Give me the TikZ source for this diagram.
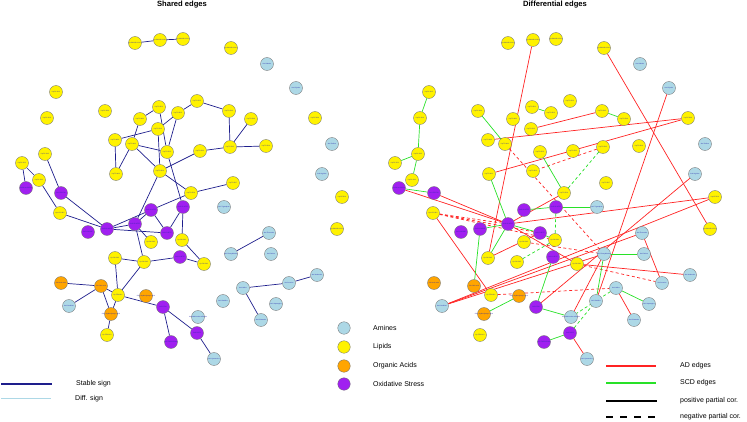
\documentclass[tikz,border=0pt]{standalone}
\usepackage{fontspec}
\setmainfont{Liberation Sans}
\setsansfont{Liberation Sans}
\pgfdeclarelayer{bg}
\pgfsetlayers{bg,main}
\definecolor{sblue}{RGB}{30,30,140}
\definecolor{lblue}{RGB}{173,216,230}
\definecolor{orng}{RGB}{255,165,0}
\definecolor{purp}{RGB}{160,32,240}
\definecolor{adred}{RGB}{255,35,35}
\definecolor{scdgreen}{RGB}{40,225,40}
\definecolor{lbltxt}{RGB}{40,40,170}
\newcommand\mb[1]{\makebox[0pt]{#1}}
\tikzset{
  nd/.style={circle,draw=black!55,line width=0.35pt,minimum size=13pt,inner sep=0pt,
    font=\fontsize{1.6}{2}\selectfont,text=lbltxt},
  lip/.style={nd,fill=yellow},
  ami/.style={nd,fill=lblue},
  oac/.style={nd,fill=orng},
  oxs/.style={nd,fill=purp},
  se/.style={draw=sblue,line width=0.7pt},
  ad/.style={draw=adred,line width=0.7pt},
  scd/.style={draw=scdgreen,line width=0.7pt},
  neg/.style={dash pattern=on 3pt off 2.5pt},
  ttl/.style={font=\bfseries\fontsize{7.6}{9}\selectfont},
  lgt/.style={font=\fontsize{7}{8}\selectfont,anchor=west,inner sep=0pt},
  lgc/.style={circle,draw=black!55,line width=0.35pt,minimum size=12.5pt,inner sep=0pt}
}
\newcommand\placenodes[1]{%
  \node[lip] (#1L1) at (135,43) {\mb{Lip.SM.d18.1.16.0}};
  \node[lip] (#1L2) at (160,40) {\mb{Lip.SM.d18.1.18.0}};
  \node[lip] (#1L3) at (183,39) {\mb{Lip.SM.d18.1.20.0}};
  \node[lip] (#1L4) at (231,48) {\mb{Lip.SM.d18.1.24.1}};
  \node[lip] (#1L5) at (56,92) {\mb{Lip.PC.36.2}};
  \node[lip] (#1L6) at (47,118) {\mb{Lip.PC.36.4}};
  \node[lip] (#1L7) at (105,111) {\mb{Lip.PC.38.4}};
  \node[lip] (#1L8) at (159,107) {\mb{Lip.TG.50.1}};
  \node[lip] (#1L9) at (197,101) {\mb{Lip.TG.52.2}};
  \node[lip] (#1L10) at (229,111) {\mb{Lip.TG.54.3}};
  \node[lip] (#1L11) at (178,113) {\mb{Lip.TG.50.2}};
  \node[lip] (#1L12) at (140,119) {\mb{Lip.TG.48.1}};
  \node[lip] (#1L13) at (251,119) {\mb{Lip.TG.54.4}};
  \node[lip] (#1L14) at (315,118) {\mb{Lip.PE.38.4}};
  \node[lip] (#1L15) at (158,129) {\mb{Lip.TG.51.2}};
  \node[lip] (#1L16) at (115,140) {\mb{Lip.TG.48.0}};
  \node[lip] (#1L17) at (132,144) {\mb{Lip.TG.49.1}};
  \node[lip] (#1L18) at (167,152) {\mb{Lip.TG.52.3}};
  \node[lip] (#1L19) at (200,151) {\mb{Lip.TG.53.2}};
  \node[lip] (#1L20) at (230,147) {\mb{Lip.TG.54.2}};
  \node[lip] (#1L21) at (266,146) {\mb{Lip.TG.56.6}};
  \node[lip] (#1L22) at (45,154) {\mb{Lip.PC.34.2}};
  \node[lip] (#1L23) at (22,163) {\mb{Lip.PC.32.1}};
  \node[lip] (#1L24) at (116,174) {\mb{Lip.TG.46.1}};
  \node[lip] (#1L25) at (160,171) {\mb{Lip.TG.50.3}};
  \node[lip] (#1L26) at (39,180) {\mb{Lip.PC.34.1}};
  \node[lip] (#1L27) at (233,183) {\mb{Lip.TG.56.7}};
  \node[lip] (#1L28) at (191,193) {\mb{Lip.TG.52.4}};
  \node[lip] (#1L29) at (342,197) {\mb{Lip.CE.20.4}};
  \node[lip] (#1L30) at (60,213) {\mb{Lip.LPC.18.2}};
  \node[lip] (#1L31) at (151,242) {\mb{Lip.DG.36.2}};
  \node[lip] (#1L32) at (182,240) {\mb{Lip.DG.34.1}};
  \node[lip] (#1L33) at (115,258) {\mb{Lip.DG.36.3}};
  \node[lip] (#1L34) at (144,262) {\mb{Lip.DG.34.2}};
  \node[lip] (#1L35) at (204,264) {\mb{Lip.DG.36.1}};
  \node[lip] (#1L36) at (337,229) {\mb{Lip.SM.d18.1.22.0}};
  \node[lip] (#1L37) at (118,295) {\mb{Lip.FFA.18.1}};
  \node[lip] (#1L38) at (107,335) {\mb{Lip.FFA.16.0}};
  \node[ami] (#1A1) at (267,64) {\mb{Ami.Alanine}};
  \node[ami] (#1A2) at (296,88) {\mb{Ami.Glycine}};
  \node[ami] (#1A3) at (332,144) {\mb{Ami.Proline}};
  \node[ami] (#1A4) at (322,174) {\mb{Ami.Arginine}};
  \node[ami] (#1A5) at (224,207) {\mb{Ami.Tryptophan}};
  \node[ami] (#1A6) at (269,233) {\mb{Ami.Threonine}};
  \node[ami] (#1A7) at (231,254) {\mb{Ami.Phenylalanine}};
  \node[ami] (#1A8) at (271,254) {\mb{Ami.Serine}};
  \node[ami] (#1A9) at (69,306) {\mb{Ami.Ornithine}};
  \node[ami] (#1A10) at (198,317) {\mb{Ami.Methionine.sulfoxide}};
  \node[ami] (#1A11) at (214,359) {\mb{Ami.Kynurenine}};
  \node[ami] (#1A12) at (243,288) {\mb{Ami.Valine}};
  \node[ami] (#1A13) at (289,283) {\mb{Ami.Leucine}};
  \node[ami] (#1A14) at (317,275) {\mb{Ami.Isoleucine}};
  \node[ami] (#1A15) at (223,301) {\mb{Ami.Histidine}};
  \node[ami] (#1A16) at (276,304) {\mb{Ami.Asparagine}};
  \node[ami] (#1A17) at (261,320) {\mb{Ami.Glutamine}};
  \node[oac] (#1O1) at (61,283) {\mb{OA.Lactic.acid}};
  \node[oac] (#1O2) at (101,286) {\mb{OA.Citric.acid}};
  \node[oac] (#1O3) at (146,296) {\mb{OA.3.Hydroxybutyric.acid}};
  \node[oac] (#1O4) at (111,314) {\mb{OA.2.Hydroxybutyric.acid}};
  \node[oxs] (#1P1) at (26,188) {\mb{OxS.8.iso.PGF2a}};
  \node[oxs] (#1P2) at (61,193) {\mb{OxS.5.iPF2a}};
  \node[oxs] (#1P3) at (151,210) {\mb{OxS.11.HETE}};
  \node[oxs] (#1P4) at (183,207) {\mb{OxS.12.HETE}};
  \node[oxs] (#1P5) at (88,232) {\mb{OxS.9.HODE}};
  \node[oxs] (#1P6) at (107,229) {\mb{OxS.13.HODE}};
  \node[oxs] (#1P7) at (135,224) {\mb{OxS.15.HETE}};
  \node[oxs] (#1P8) at (167,233) {\mb{OxS.5.HETE}};
  \node[oxs] (#1P9) at (180,257) {\mb{OxS.9.HETE}};
  \node[oxs] (#1P10) at (163,307) {\mb{OxS.LTB4}};
  \node[oxs] (#1P11) at (197,333) {\mb{OxS.PGE2}};
  \node[oxs] (#1P12) at (171,342) {\mb{OxS.TXB2.15.keto}};
}
\begin{document}
\begin{tikzpicture}[x=1pt,y=-1pt]
\useasboundingbox (0,0) rectangle (747,422);
% titles
\node[ttl] (t1) at (182,4.5) {Shared edges};
\node[ttl] (t2) at (555,4.5) {Differential edges};
% nodes
\placenodes{a}
\begin{scope}[xshift=373pt]
\placenodes{b}
\end{scope}
% shared edges
\begin{pgfonlayer}{bg}
\foreach \u/\v in {L1/L2,L2/L3,L8/L12,L12/L17,L8/L18,L9/L11,L11/L15,L11/L18,L15/L16,L15/L25,
  L16/L24,L17/L24,L17/L18,L17/L25,L9/L10,L10/L20,L13/L20,L20/L21,L19/L20,L19/L25,L18/P4,
  L25/L28,L25/P7,L27/L28,L28/P3,L23/P1,L23/L26,L26/L30,L22/P2,P2/P6,L30/P6,P6/P7,P6/P3,
  P6/P8,P7/P3,P7/L31,P7/L34,P3/P8,P4/P8,P4/L32,L32/L35,L33/L34,L34/P9,P9/L35,L34/L37,
  L33/L37,O1/O2,O2/A9,O2/L37,O2/O4,L37/O4,O4/L38,L37/P10,P10/P12,P10/P11,P11/A11,
  A6/A7,A12/A13,A13/A14,A12/A17}
  \draw[se] (a\u) -- (a\v);
% differential edges: AD solid
\foreach \u/\v in {L2/L33,L4/L36,A2/A15,L10/L15,L14/L16,L14/L24,P1/P7,P2/P7,L29/P7,L29/A9,
  A4/P10,L30/L37,A7/A10,A6/A13,A12/A17,P11/A11,L35/A14,L33/P8,A9/A7,A9/A6,L28/P7,P7/L35}
  \draw[ad] (b\u) -- (b\v);
% AD dashed
\foreach \u/\v in {L20/L25,L17/A7,L30/P7,L30/P8,L30/L32,L37/A12,L31/A7,L35/A13}
  \draw[ad,neg] (b\u) -- (b\v);
% SCD solid
\foreach \u/\v in {L5/L6,L6/L22,L22/L23,L22/L26,P1/P2,L7/L17,L8/L11,L10/L13,L18/L28,L24/P7,
  P4/A5,P3/P4,P6/P7,P7/P8,P7/L33,P6/O2,P8/L32,P9/P10,A7/A8,A7/A15,A12/A16,P10/A10,
  P11/P12,O3/O4}
  \draw[scd] (b\u) -- (b\v);
% SCD dashed
\foreach \u/\v in {L20/L28,P4/L32,L34/L32,A12/A10,P11/A15}
  \draw[scd,neg] (b\u) -- (b\v);
\end{pgfonlayer}
% left legend
\coordinate (ls1) at (1,384); \coordinate (le1) at (52,384);
\coordinate (ls2) at (1,398.5); \coordinate (le2) at (51,398.5);
\draw[sblue,line width=1.3pt] (ls1) -- (le1);
\draw[lblue,line width=1.3pt] (ls2) -- (le2);
\node[lgt] (lt1) at (76,384) {Stable sign};
\node[lgt] (lt2) at (75,399) {Diff. sign};
% middle legend
\node[lgc,fill=lblue] (m1) at (344,328) {};
\node[lgc,fill=yellow] (m2) at (344,347) {};
\node[lgc,fill=orng] (m3) at (344,366) {};
\node[lgc,fill=purp] (m4) at (344,384) {};
\node[lgt] (mt1) at (373,328) {Amines};
\node[lgt] (mt2) at (373,347) {Lipids};
\node[lgt] (mt3) at (373,366) {Organic Acids};
\node[lgt] (mt4) at (373,384) {Oxidative Stress};
% right legend
\coordinate (rs1) at (606,366); \coordinate (re1) at (656,366);
\coordinate (rs2) at (606,383); \coordinate (re2) at (656,383);
\coordinate (rs3) at (606,401); \coordinate (re3) at (657,401);
\coordinate (rs4) at (606,417); \coordinate (re4) at (655,417);
\draw[adred,line width=1.1pt] (rs1) -- (re1);
\draw[scdgreen,line width=1.1pt] (rs2) -- (re2);
\draw[black,line width=1.1pt] (rs3) -- (re3);
\draw[black,line width=1.1pt,dash pattern=on 7pt off 7pt] (rs4) -- (re4);
\node[lgt] (rt1) at (680,366) {AD edges};
\node[lgt] (rt2) at (680,383) {SCD edges};
\node[lgt] (rt3) at (680,401) {positive partial cor.};
\node[lgt] (rt4) at (680,417) {negative partial cor.};
\end{tikzpicture}
\end{document}
